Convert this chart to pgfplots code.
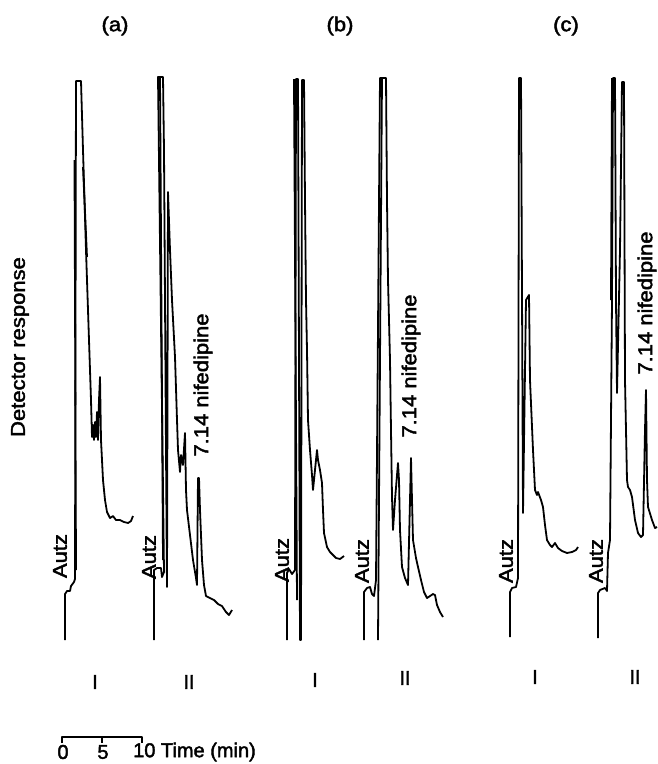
\documentclass[border=0pt]{standalone}
\usepackage{fontspec}
\setmainfont{Liberation Sans}[FakeBold=2]
\usepackage{graphicx}
\usepackage{pgfplots}
\pgfplotsset{compat=1.18}
\tikzset{tr/.style={font=\fontsize{20}{23}\selectfont, inner sep=0pt}}
\newcommand\lab[1]{\scalebox{1.1}[1]{#1}}
\begin{document}
\begin{tikzpicture}
\begin{axis}[scale only axis, width=658pt, height=764pt,
  xmin=0, xmax=658, ymin=0, ymax=764, y dir=reverse, hide axis, clip=false,
  every axis plot post/.append style={black, solid, line width=1.8pt, line join=round, mark=none}]
% (a) I
\addplot coordinates {(65,640)(65,594)(67,591)(70,591)(71,586)(74,582)(75,579)(76,81)(81,81)(83,150)(86,250)(89,340)(91,400)(92,437)(93,425)(94,440)(95,422)(96,437)(97,412)(98,440)(99,400)(100,377)(101,440)(102,460)(103,480)(105,500)(107,512)(110,518)(113,516)(116,520)(120,520)(124,522)(128,523)(131,521)(133,516)};
\addplot coordinates {(74.5,160)(76,570)};
\addplot coordinates {(83,167)(87,257)};
% (a) II
\addplot coordinates {(154,640)(154,570)(157,568)(161,568)(162,577)(164,572)(158,77)(163,77)(164,150)(165,300)(166,450)(167,587)(168,192)(170,250)(172,300)(175,357)(177,420)(178,450)(180,472)(181,455)(183,465)(185,433)(186,490)(187,510)(190,535)(193,560)(196,578)(197,585)(198,478)(199,478)(200,510)(202,560)(204,585)(206,596)(210,598)(214,600)(218,604)(222,606)(226,612)(229,615)(232,610)};
\addplot coordinates {(160,77)(163,560)};
% (b) I
\addplot coordinates {(287,640)(287,573)(289,569)(292,574)(295,570)(296,79)(298,79)(300,640)(301,640)(302,80)(304,80)(305,200)(306,300)(307,350)(308,420)(310,450)(312,475)(313,490)(315,470)(317,450)(318,460)(320,470)(322,483)(323,510)(324,533)(327,547)(330,552)(333,555)(336,558)(340,559)(344,556)};
\addplot coordinates {(294,79)(297,600)};
% (b) II
\addplot coordinates {(364,640)(364,592)(367,588)(370,587)(372,594)(374,596)(376,580)(380,78)(386,78)(387,200)(388,280)(390,360)(391,430)(392,497)(393,530)(395,500)(398,463)(399,480)(400,530)(402,567)(405,578)(408,585)(410,500)(411,458)(412,500)(413,540)(416,558)(418,567)(421,580)(424,592)(427,598)(430,596)(433,594)(435,595)(437,605)(440,612)(443,617)};
\addplot coordinates {(382,78)(378,640)};
% (c) I
\addplot coordinates {(510,637)(510,592)(512,588)(516,587)(518,578)(519,78)(521,78)(522,293)(523,513)(526,300)(529,295)(530,380)(533,450)(535,490)(537,495)(538,492)(541,500)(543,507)(545,525)(547,540)(550,545)(552,547)(555,543)(558,548)(562,551)(567,553)(572,552)(576,550)(578,547)};
% (c) II
\addplot coordinates {(598,638)(598,593)(600,590)(605,588)(607,591)(608,553)(610,540)(612,300)(613,78)(615,78)(616,300)(617,393)(620,250)(622,82)(624,82)(625,380)(627,480)(628,487)(630,490)(632,497)(635,520)(638,533)(641,537)(643,535)(645,430)(646,390)(647,480)(648,507)(652,520)(655,528)(657,527)};
\addplot coordinates {(611,300)(612,78)};
% scale bar
\addplot coordinates {(62,743)(62,737)(142,737)(142,743)};
\addplot coordinates {(102,737)(102,743)};
% texts
\node[tr] at (axis cs:115,26) {\lab{(a)}};
\node[tr] at (axis cs:340,26) {\lab{(b)}};
\node[tr] at (axis cs:566,26) {\lab{(c)}};
\node[tr, rotate=90] at (axis cs:20,347) {\lab{Detector response}};
\node[tr, rotate=90] at (axis cs:60,556) {\lab{Autz}};
\node[tr, rotate=90] at (axis cs:149,557) {\lab{Autz}};
\node[tr, rotate=90] at (axis cs:282,560) {\lab{Autz}};
\node[tr, rotate=90] at (axis cs:362,561) {\lab{Autz}};
\node[tr, rotate=90] at (axis cs:506,561) {\lab{Autz}};
\node[tr, rotate=90] at (axis cs:596,561) {\lab{Autz}};
\node[tr, rotate=90] at (axis cs:203,385) {\lab{7.14 nifedipine}};
\node[tr, rotate=90] at (axis cs:411,366) {\lab{7.14 nifedipine}};
\node[tr, rotate=90] at (axis cs:647,303) {\lab{7.14 nifedipine}};
\node[tr] at (axis cs:95,682) {I};
\node[tr] at (axis cs:189,682) {II};
\node[tr] at (axis cs:315,680) {I};
\node[tr] at (axis cs:405,678) {II};
\node[tr] at (axis cs:535,677) {I};
\node[tr] at (axis cs:635,677) {II};
\node[tr] at (axis cs:63,752) {0};
\node[tr] at (axis cs:103,752) {5};
\node[tr, anchor=west] at (axis cs:133,752) {10 Time (min)};
\end{axis}
\pgfresetboundingbox
\path[use as bounding box] (current axis.south west) rectangle (current axis.north east);
\end{tikzpicture}
\end{document}
